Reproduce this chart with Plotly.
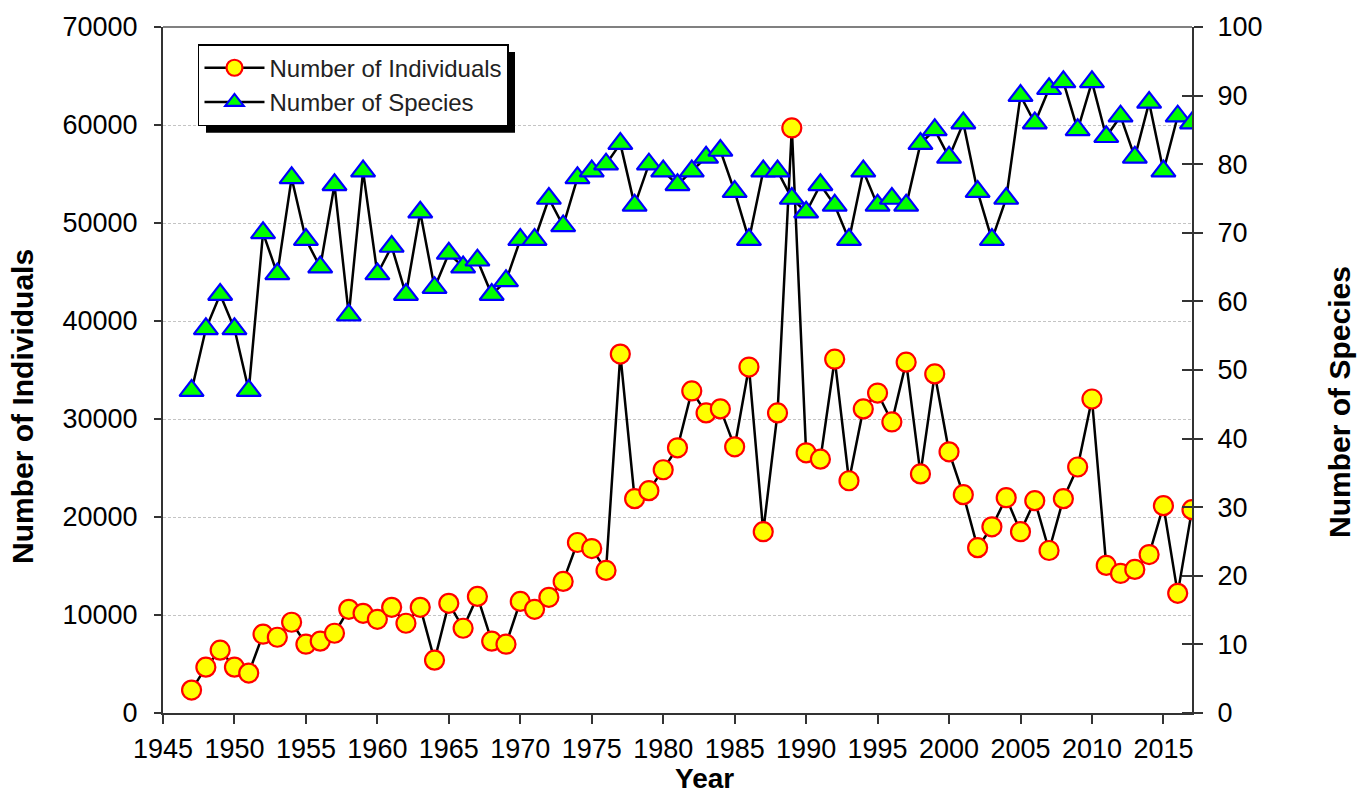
import plotly.graph_objects as go

years = list(range(1947, 2018))

individuals = [
    2340, 4680, 6410, 4680, 4070, 8040, 7730, 9260, 7020, 7330,
    8140, 10580, 10170, 9560, 10780, 9160, 10780, 5390, 11190, 8650,
    11900, 7330, 7020, 11390, 10580, 11800, 13430, 17400, 16780, 14550,
    36620, 21870, 22690, 24820, 27060, 32860, 30620, 31030, 27160, 35300,
    18500, 30620, 59700, 26550, 25900, 36100, 23700, 31030, 32650, 29700,
    35800, 24400, 34600, 26650, 22280, 16870, 19000, 21970, 18500, 21670,
    16580, 21870, 25100, 32040, 15060, 14240, 14650, 16170, 21160, 12210,
    20750,
]

species = [
    47, 56, 61, 56, 47, 70, 64, 78, 69, 65,
    77, 58, 79, 64, 68, 61, 73, 62, 67, 65,
    66, 61, 63, 69, 69, 75, 71, 78, 79, 80,
    83, 74, 80, 79, 77, 79, 81, 82, 76, 69,
    79, 79, 75, 73, 77, 74, 69, 79, 74, 75,
    74, 83, 85, 81, 86, 76, 69, 75, 90, 86,
    91, 92, 85, 92, 84, 87, 81, 89, 79, 87,
    86,
]

x_ticks = list(range(1945, 2016, 5))
left_ticks = list(range(0, 70001, 10000))
right_ticks = list(range(0, 101, 10))

FONT = "Liberation Sans, Arial, sans-serif"

fig = go.Figure()

fig.add_trace(go.Scatter(
    x=years, y=individuals, name="Number of Individuals",
    mode="lines+markers",
    line=dict(color="black", width=2.5),
    marker=dict(symbol="circle", size=19, color="#FFFF00",
                line=dict(color="#FF0000", width=2.2)),
    yaxis="y",
))

fig.add_trace(go.Scatter(
    x=years, y=species, name="Number of Species",
    mode="lines+markers",
    line=dict(color="black", width=2.5),
    marker=dict(symbol="triangle-up", size=21, color="#00FF00",
                line=dict(color="#0000FF", width=2.2)),
    yaxis="y2",
))

# helper trace so the inner tick marks of the right axis get drawn
fig.add_trace(go.Scatter(x=[None], y=[None], yaxis="y3", mode="markers",
                         showlegend=False, hoverinfo="skip"))

tickfont = dict(family=FONT, size=27, color="black")

fig.update_layout(
    width=1369, height=795,
    margin=dict(l=163, r=177, t=25, b=82),
    paper_bgcolor="white", plot_bgcolor="white",
    font=dict(family=FONT, color="black"),
    xaxis=dict(
        range=[1945, 2017], tickmode="array", tickvals=x_ticks,
        ticks="outside", ticklen=9, tickwidth=1.5, tickcolor="#333333",
        showline=True, linecolor="#333333", linewidth=2,
        showgrid=False, zeroline=False, tickfont=tickfont,
        ticklabelstandoff=2, tickformat="d",
    ),
    yaxis=dict(
        range=[0, 70000], tickmode="array", tickvals=left_ticks,
        ticks="outside", ticklen=7, tickwidth=1.5, tickcolor="#333333",
        showline=True, linecolor="#333333", linewidth=2,
        showgrid=True, gridcolor="#c4c4c4", gridwidth=1, griddash="3px,2px",
        zeroline=False, tickfont=tickfont, ticklabelstandoff=11,
        tickformat="d",
    ),
    yaxis2=dict(
        range=[0, 100], tickmode="array", tickvals=right_ticks,
        overlaying="y", side="right", anchor="x",
        ticks="outside", ticklen=9, tickwidth=1.5, tickcolor="#333333",
        showline=True, linecolor="#333333", linewidth=2,
        showgrid=False, zeroline=False, tickfont=tickfont,
        ticklabelstandoff=9, tickformat="d",
    ),
    yaxis3=dict(
        range=[0, 100], tickmode="array", tickvals=right_ticks,
        overlaying="y", side="left", anchor="free", position=1.0,
        ticks="outside", ticklen=10, tickwidth=1.5, tickcolor="#333333",
        showline=False, showgrid=False, zeroline=False,
        showticklabels=False,
    ),
    legend=dict(
        x=0.034, y=0.975, xanchor="left", yanchor="top",
        bgcolor="white", bordercolor="black", borderwidth=1.5,
        font=dict(family=FONT, size=24, color="#222222"),
        itemwidth=60, tracegroupgap=0,
    ),
    showlegend=True,
)

# legend drop shadow and top frame line (decoration in paper coordinates)
fig.add_shape(type="rect", xref="paper", yref="paper",
              x0=(206 - 163) / 1029, x1=(515 - 163) / 1029,
              y0=(713 - 131) / 688, y1=(713 - 50) / 688,
              fillcolor="black", line=dict(width=0), layer="above")
fig.add_shape(type="line", xref="paper", yref="paper",
              x0=0, x1=1, y0=1, y1=1,
              line=dict(color="#808080", width=2))

title_font = dict(family=FONT, size=30, color="black")
fig.add_annotation(text="<b>Year</b>", xref="paper", yref="paper",
                   x=(704 - 163) / 1029, y=(713 - 795) / 688,
                   xanchor="center", yanchor="bottom", borderpad=0,
                   showarrow=False, font=dict(family=FONT, size=28, color="black"))
fig.add_annotation(text="<b>Number of Individuals</b>", xref="paper", yref="paper",
                   x=(23 - 163) / 1029, y=(713 - 406) / 688,
                   xanchor="center", yanchor="middle", textangle=-90,
                   showarrow=False, font=title_font)
fig.add_annotation(text="<b>Number of Species</b>", xref="paper", yref="paper",
                   x=(1340 - 163) / 1029, y=(713 - 401) / 688,
                   xanchor="center", yanchor="middle", textangle=-90,
                   showarrow=False, font=title_font)

fig.write_html(
    "out.html",
    config={"displayModeBar": False},
    post_script="document.body.style.margin='0';document.body.style.overflow='hidden';",
)
